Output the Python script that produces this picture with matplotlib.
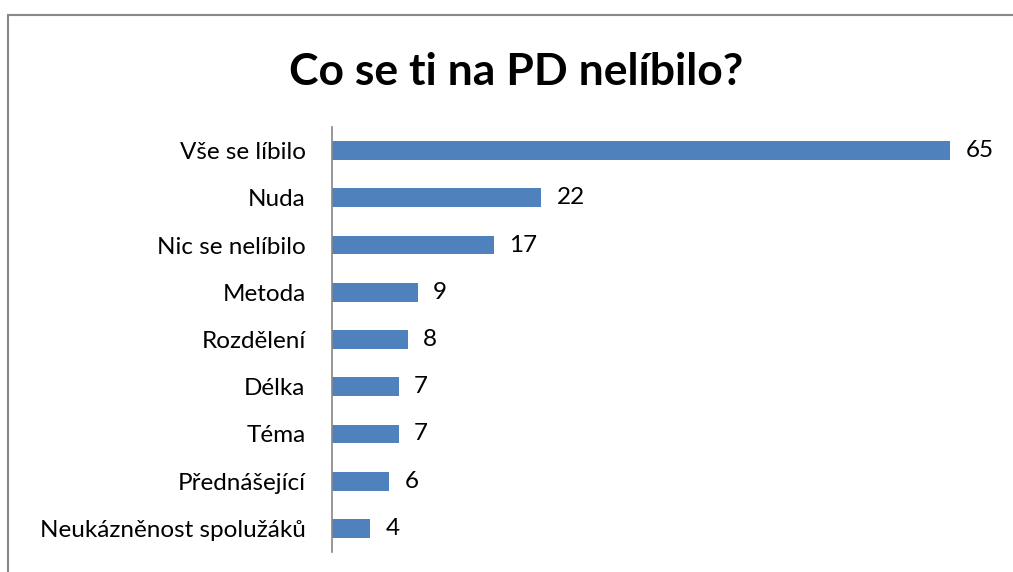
import matplotlib.pyplot as plt
from matplotlib.patches import Rectangle

# data
categories = ['Vše se líbilo', 'Nuda', 'Nic se nelíbilo', 'Metoda', 'Rozdělení',
              'Délka', 'Téma', 'Přednášející', 'Neukázněnost spolužáků']
values = [65, 22, 17, 9, 8, 7, 7, 6, 4]

plt.rcParams['font.family'] = ['Lato', 'DejaVu Sans']

fig = plt.figure(figsize=(10.13, 5.72), dpi=100)
ax = fig.add_axes([332 / 1013, 1 - 552 / 572, (998 - 332) / 1013, (552 - 127) / 572])

ypos = list(range(len(categories)))
ax.barh(ypos, values, height=0.4, color='#4F81BD')
for y, v in zip(ypos, values):
    ax.text(v + 1.6, y, str(v), va='center', ha='left', fontsize=17.5)

ax.set_ylim(len(categories) - 0.5, -0.5)
ax.set_xlim(0, 70)
ax.set_yticks(ypos)
ax.set_yticklabels(categories, fontsize=17.5)
ax.tick_params(axis='y', length=0, pad=19)
ax.set_xticks([])
for s in ['top', 'right', 'bottom']:
    ax.spines[s].set_visible(False)
ax.spines['left'].set_color('#868686')
ax.spines['left'].set_linewidth(1.2)

fig.text(516 / 1013, 1 - 72 / 572, 'Co se ti na PD nelíbilo?', ha='center', va='center',
         fontsize=32, fontweight='bold')

# outer frame
fig.patches.append(Rectangle((8 / 1013, -0.1), 1.2, 1 - 15 / 572 + 0.1,
                             transform=fig.transFigure, fill=False,
                             edgecolor='#888888', linewidth=1.5))

fig.savefig('out.png', dpi=100)
